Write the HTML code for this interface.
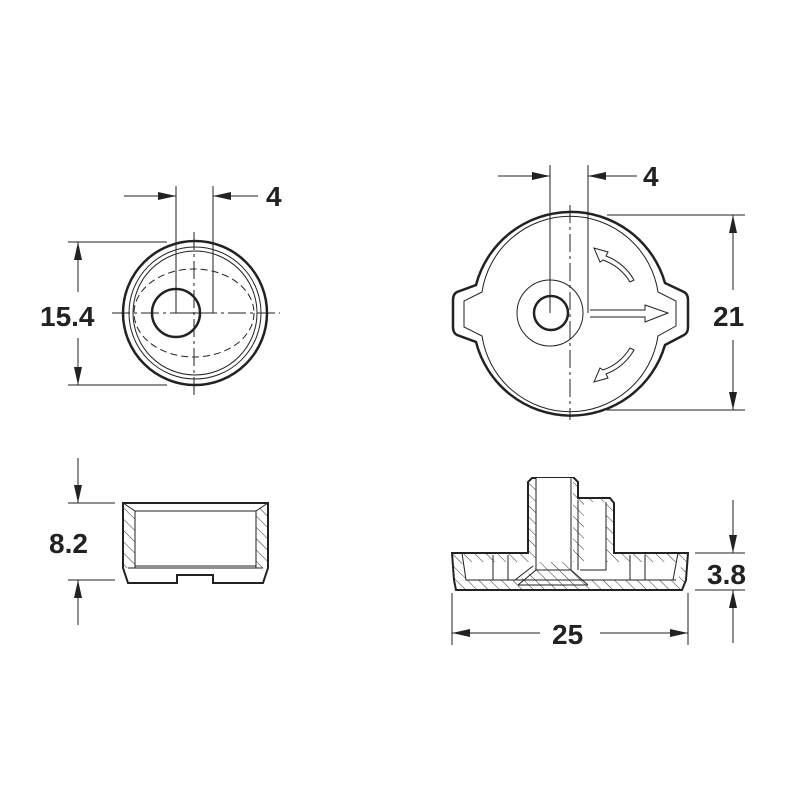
<!DOCTYPE html>
<html><head><meta charset="utf-8"><style>
body{margin:0;background:#fff}
svg{display:block}
text{font-family:"Liberation Sans",sans-serif;font-weight:bold;fill:#222}
</style></head><body>
<svg width="800" height="800" viewBox="0 0 800 800" xmlns="http://www.w3.org/2000/svg">
<defs>
<marker id="ah" viewBox="0 0 20 8" refX="20" refY="4" markerWidth="18" markerHeight="8" markerUnits="userSpaceOnUse" orient="auto" preserveAspectRatio="none"><path d="M0,0 L20,4 L0,8 Z" fill="#222"/></marker>
<pattern id="hatch" width="8" height="8" patternUnits="userSpaceOnUse" patternTransform="rotate(-45)"><line x1="0" y1="0" x2="0" y2="8" stroke="#333" stroke-width="1"/></pattern>
</defs>
<g stroke="#222" fill="none" stroke-width="1">
<!-- TOP LEFT -->
<circle cx="195" cy="313" r="72" stroke-width="2.5"/>
<circle cx="195" cy="313" r="66"/>
<circle cx="195" cy="313" r="62"/>
<ellipse cx="194" cy="313" rx="60" ry="44" stroke-dasharray="7,4"/>
<circle cx="176" cy="313" r="24" stroke-width="2.5"/>
<line x1="194" y1="232" x2="194" y2="395" stroke-dasharray="18,4,3,4"/>
<line x1="112" y1="313" x2="280" y2="313" stroke-dasharray="18,4,3,4"/>
<line x1="176" y1="186" x2="176" y2="313"/>
<line x1="213" y1="186" x2="213" y2="313"/>
<line x1="176" y1="313" x2="213" y2="313"/>
<line x1="124" y1="196" x2="176" y2="196" marker-end="url(#ah)"/>
<line x1="258" y1="196" x2="213" y2="196" marker-end="url(#ah)"/>
<line x1="68" y1="242" x2="167" y2="242"/>
<line x1="68" y1="385" x2="167" y2="385"/>
<line x1="78" y1="292" x2="78" y2="242" marker-end="url(#ah)"/>
<line x1="78" y1="338" x2="78" y2="385" marker-end="url(#ah)"/>
<!-- TOP RIGHT -->
<path d="M476,285 A98 98 0 0 1 665,283 L684,292 Q688,294 688,300 L688,327 Q688,333 684,335 L665,345 A98 98 0 0 1 476,342 L457,335 Q453,333 453,327 L453,300 Q453,294 457,292 Z" stroke-width="2.5"/>
<path d="M482,292 A89 89 0 0 1 658,292 L676,301 L676,326 L658,336 A89 89 0 0 1 482,336 L464,327 L464,301 Z"/>
<circle cx="550" cy="313" r="33"/>
<circle cx="551" cy="313" r="17" stroke-width="2.5"/>
<line x1="570" y1="205" x2="570" y2="420" stroke-dasharray="18,4,3,4"/>
<line x1="550" y1="165" x2="550" y2="313"/>
<line x1="588" y1="165" x2="588" y2="313"/>
<line x1="498" y1="176" x2="550" y2="176" marker-end="url(#ah)"/>
<line x1="637" y1="176" x2="588" y2="176" marker-end="url(#ah)"/>
<path d="M590,310 L645,310 L645,305 L668,313 L645,322 L645,317 L590,317"/>
<path d="M634,280 A55 55 0 0 0 606,256 L608,252 L594,248 L600,262 L603,260 A52 52 0 0 1 630,282 Z"/>
<path d="M634,350 A55 55 0 0 1 606,374 L608,378 L594,382 L600,368 L603,370 A52 52 0 0 0 630,348 Z"/>
<line x1="607" y1="215" x2="745" y2="215"/>
<line x1="607" y1="410" x2="745" y2="410"/>
<line x1="733" y1="290" x2="733" y2="215" marker-end="url(#ah)"/>
<line x1="733" y1="340" x2="733" y2="410" marker-end="url(#ah)"/>
<!-- BOTTOM LEFT -->
<path d="M123,503 L135,511 L135,568 L128,568 L123,568 Z" fill="url(#hatch)" stroke="none"/>
<path d="M268,503 L256,511 L256,568 L263,568 L268,568 Z" fill="url(#hatch)" stroke="none"/>
<path d="M123,503 L268,503 L268,568 L263,583 L213,583 L213,575 L177,575 L177,583 L128,583 L123,568 Z" stroke-width="2"/>
<path d="M123,503 L135,511 L256,511 L268,503"/>
<path d="M135,511 L135,568 M256,511 L256,568"/>
<line x1="128" y1="568" x2="263" y2="568"/>
<line x1="135" y1="566" x2="256" y2="566"/>
<line x1="68" y1="503" x2="115" y2="503"/>
<line x1="68" y1="580" x2="115" y2="580"/>
<line x1="78" y1="458" x2="78" y2="503" marker-end="url(#ah)"/>
<line x1="78" y1="625" x2="78" y2="580" marker-end="url(#ah)"/>
<!-- BOTTOM RIGHT -->
<path d="M452,553 L528,553 L528,482 L532,478 L574,478 L578,482 L578,498 L610,498 L614,503 L614,553 L688,553 L686,580 L682,590 L456,590 L454,580 Z" fill="url(#hatch)" stroke-width="2"/>
<path d="M462,562 L466,580 L520,580 L536,568 L536,478 L573,478 L573,568 L586,580 L606,580 L606,502 L584,502 L584,580 L678,580 L682,562 Z" fill="#fff" stroke="none"/>
<path d="M462,553 L466,580 L515,580 L533,566 M673,580 L678,553 M466,580 L676,580"/>
<path d="M536,478 L536,570 L518,585 M571,478 L571,570 L588,585 M536,570 L571,570 M518,585 L588,585"/>
<path d="M578,500 L578,570 M580,570 L606,570 L606,502"/>
<line x1="493" y1="555" x2="493" y2="580"/><line x1="508" y1="555" x2="508" y2="580"/>
<line x1="630" y1="555" x2="630" y2="580"/><line x1="645" y1="555" x2="645" y2="580"/>
<line x1="695" y1="553" x2="745" y2="553"/>
<line x1="695" y1="590" x2="745" y2="590"/>
<line x1="733" y1="500" x2="733" y2="553" marker-end="url(#ah)"/>
<line x1="733" y1="643" x2="733" y2="590" marker-end="url(#ah)"/>
<line x1="452" y1="593" x2="452" y2="645"/>
<line x1="688" y1="593" x2="688" y2="645"/>
<line x1="540" y1="633" x2="452" y2="633" marker-end="url(#ah)"/>
<line x1="600" y1="633" x2="688" y2="633" marker-end="url(#ah)"/>
</g>
<g font-size="28">
<text x="266" y="206">4</text>
<text x="40" y="326">15.4</text>
<text x="643" y="186">4</text>
<text x="713" y="326">21</text>
<text x="49" y="553">8.2</text>
<text x="707" y="584">3.8</text>
<text x="552" y="644">25</text>
</g>
</svg>
</body></html>
